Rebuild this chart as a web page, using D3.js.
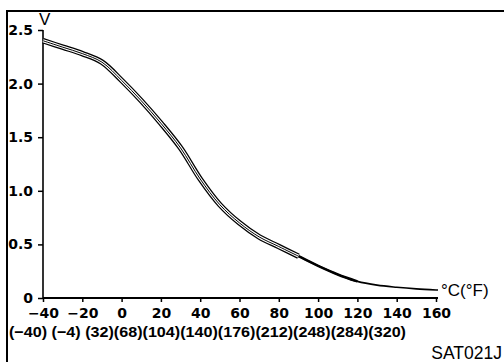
<!DOCTYPE html>
<html><head><meta charset="utf-8">
<script src="https://cdn.jsdelivr.net/npm/d3@7"></script>
<style>
html,body{margin:0;padding:0;background:#fff;}
svg{display:block;}
</style></head>
<body>
<script>
// ---- data ----
const temperaturesC = [-40,-30,-20,-10,0,10,20,30,40,50,60,70,80,90,100,110,120,130,140,150,160];
const voltage       = [2.40,2.34,2.28,2.20,2.03,1.84,1.63,1.40,1.11,0.87,0.70,0.57,0.48,0.39,0.30,0.22,0.155,0.12,0.10,0.085,0.075];
const xTicks = [-40,-20,0,20,40,60,80,100,120,140,160];
const yTicks = [0,0.5,1.0,1.5,2.0,2.5];
const yTickLabels = ["0","0.5","1.0","1.5","2.0","2.5"];
const fahrenheitLabels = ["(−40)","(−4)","(32)","(68)","(104)","(140)","(176)","(212)","(248)","(284)","(320)"];
const xUnit = "°C(°F)";
const yUnit = "V";
const figureCode = "SAT021J";
const bandMaxTemp = 95;
const taperMaxTemp = 125;

// ---- layout ----
const W = 504, H = 362;
const svg = d3.select("body").append("svg").attr("width", W).attr("height", H);
const x = d3.scaleLinear().domain([-40,160]).range([43,436]);
const y = d3.scaleLinear().domain([0,2.5]).range([298,30]);
const boldFont = "'DejaVu Sans', sans-serif";
const plainFont = "'Liberation Sans', Arial, sans-serif";

// frame
svg.append("path").attr("d", `M7,${H} L7,11 L${W},11`)
  .attr("fill","none").attr("stroke","#000").attr("stroke-width",2);

// y axis
const yAxis = svg.append("g").attr("transform","translate(43,0)")
  .call(d3.axisLeft(y).tickValues(yTicks).tickSize(5).tickPadding(5)
    .tickFormat((d,i)=>yTickLabels[i]));
yAxis.select(".domain").attr("d","M0,30V298").attr("stroke-width",1.6);
yAxis.selectAll(".tick line").attr("stroke-width",1.5);
yAxis.selectAll("text").attr("font-family",boldFont).attr("font-weight","bold")
  .attr("font-size",14).attr("fill","#000");

// x axis
const xAxis = svg.append("g").attr("transform","translate(0,298)")
  .call(d3.axisBottom(x).tickValues(xTicks).tickSize(4).tickPadding(6)
    .tickFormat(d => d < 0 ? "−" + Math.abs(d) : String(d)));
xAxis.select(".domain").attr("d","M43,0H438").attr("stroke-width",1.8);
xAxis.selectAll(".tick line").attr("stroke-width",1.5);
xAxis.selectAll("text").attr("font-family",boldFont).attr("font-weight","bold")
  .attr("font-size",14).attr("fill","#000");

// Fahrenheit row
svg.append("text").attr("x",9).attr("y",337)
  .attr("font-family",plainFont).attr("font-weight","bold").attr("font-size",15)
  .attr("textLength",397).attr("lengthAdjust","spacingAndGlyphs")
  .text(fahrenheitLabels.map((s,i)=> i<2 ? s+" " : s).join(""));

// units
svg.append("text").attr("x",39).attr("y",25).attr("font-family",plainFont)
  .attr("font-size",17).text(yUnit);
svg.append("text").attr("x",441).attr("y",296).attr("font-family",plainFont)
  .attr("font-size",17).text(xUnit);
svg.append("text").attr("x",502).attr("y",359).attr("text-anchor","end")
  .attr("font-family",plainFont).attr("font-size",17.5).text(figureCode);

// curve
const pts = temperaturesC.map((t,i)=>({t, v: voltage[i]}));
const line = d3.line().x(d=>x(d.t)).y(d=>y(d.v)).curve(d3.curveCatmullRom.alpha(0.5));
const band = pts.filter(d => d.t <= bandMaxTemp);
const taper = pts.filter(d => d.t >= 80 && d.t <= taperMaxTemp);
svg.append("path").attr("d", line(pts)).attr("fill","none").attr("stroke","#000").attr("stroke-width",1.6);
svg.append("path").attr("d", line(taper)).attr("fill","none").attr("stroke","#000").attr("stroke-width",2.6);
svg.append("path").attr("d", line(band)).attr("fill","none").attr("stroke","#000").attr("stroke-width",5.5);
svg.append("path").attr("d", line(band)).attr("fill","none").attr("stroke","#fff").attr("stroke-width",3);
svg.append("path").attr("d", line(band)).attr("fill","none").attr("stroke","#000").attr("stroke-width",1);
// extension of the curve towards the unit label
svg.append("path").attr("d", `M${x(160)},${y(voltage[voltage.length-1])}H438`).attr("stroke","#000").attr("stroke-width",1.6);
</script>
</body></html>
